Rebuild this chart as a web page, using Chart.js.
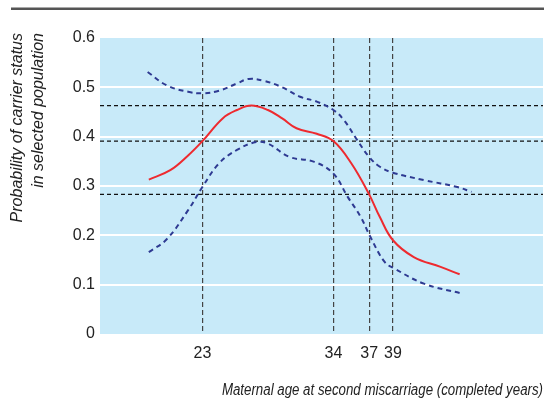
<!DOCTYPE html>
<html>
<head>
<meta charset="utf-8">
<script src="https://cdn.jsdelivr.net/npm/chart.js@4/dist/chart.umd.min.js"></script>
<style>
html,body{margin:0;padding:0;background:#fff}
#wrap{width:544px;height:400px}
</style>
</head>
<body>
<div id="wrap"><canvas id="c"></canvas></div>
<script>
// data
const xTicks = [23, 34, 37, 39]
const yTicks = [0, 0.1, 0.2, 0.3, 0.4, 0.5, 0.6]
const refProb = [0.463, 0.391, 0.283]

const redAge  = [18.5, 20.3, 21.8, 23, 24.7, 25.9, 27.1, 28.5, 29.7, 30.9, 32.6, 34, 35.5, 37, 37.9, 39, 40.75, 43.0, 44.6]
const redProb = [0.313, 0.332, 0.362, 0.391, 0.437, 0.454, 0.463, 0.454, 0.437, 0.417, 0.406, 0.391, 0.346, 0.283, 0.237, 0.19, 0.156, 0.136, 0.121]

const upAge  = [18.4, 20.0, 21.8, 23, 24.4, 25.9, 26.9, 28.2, 29.7, 31.2, 32.6, 34, 34.9, 36.0, 37, 37.9, 39, 41.6, 44.4, 45.6]
const upProb = [0.531, 0.504, 0.491, 0.488, 0.493, 0.508, 0.517, 0.513, 0.500, 0.481, 0.471, 0.454, 0.433, 0.393, 0.359, 0.339, 0.327, 0.312, 0.298, 0.288]

const lowAge  = [18.5, 20.0, 21.8, 23, 24.4, 25.9, 27.5, 28.5, 30.3, 32.4, 34, 35.2, 36.3, 37.1, 38.3, 39.1, 41.6, 44.6]
const lowProb = [0.166, 0.192, 0.251, 0.298, 0.346, 0.373, 0.389, 0.386, 0.359, 0.349, 0.325, 0.278, 0.237, 0.197, 0.146, 0.133, 0.102, 0.083]

const xTitle = 'Maternal age at second miscarriage (completed years)'
const yTitle = ['Probability of carrier status', 'in selected population']

const xMin = 14.4, xMax = 51.6

const pts = (a, b) => a.map((v, i) => ({x: v, y: b[i]}))

const FONT = "'Liberation Sans', Arial, sans-serif"

const bgPlugin = {
  id: 'bg',
  beforeDraw(chart) {
    const {ctx, chartArea: a} = chart
    ctx.save()
    ctx.fillStyle = '#c8eaf9'
    ctx.fillRect(a.left, a.top, a.right - a.left, a.bottom - a.top)
    // top rule
    ctx.strokeStyle = '#555'
    ctx.lineWidth = 2.6
    ctx.beginPath()
    ctx.moveTo(11, 8.7)
    ctx.lineTo(544, 8.7)
    ctx.stroke()
    ctx.restore()
  },
  afterDraw(chart) {
    const {ctx, chartArea: a} = chart
    ctx.save()
    ctx.fillStyle = '#222'
    ctx.font = 'italic 16px ' + FONT
    // x title, condensed like the original
    ctx.save()
    ctx.translate(a.right, 395)
    ctx.scale(0.83, 1)
    ctx.textAlign = 'right'
    ctx.textBaseline = 'alphabetic'
    ctx.fillText(xTitle, 0, 0)
    ctx.restore()
    // y title
    ctx.save()
    ctx.translate(18, 33)
    ctx.rotate(-Math.PI / 2)
    ctx.textAlign = 'right'
    ctx.textBaseline = 'middle'
    ctx.fillText(yTitle[0], 0, 0)
    ctx.fillText(yTitle[1], 0, 21)
    ctx.restore()
    ctx.restore()
  }
}

const refSets = refProb.map(p => ({
  data: [{x: xMin, y: p}, {x: xMax, y: p}],
  borderColor: '#111',
  borderWidth: 1.2,
  borderDash: [4, 3],
  pointRadius: 0,
  order: 5
}))

new Chart(document.getElementById('c'), {
  type: 'line',
  data: {
    datasets: [
      ...refSets,
      {data: pts(upAge, upProb), borderColor: '#2e3a92', borderWidth: 2, borderDash: [5, 4], pointRadius: 0, tension: 0.4, order: 2},
      {data: pts(lowAge, lowProb), borderColor: '#2e3a92', borderWidth: 2, borderDash: [5, 4], pointRadius: 0, tension: 0.4, order: 2},
      {data: pts(redAge, redProb), borderColor: '#ee2a2f', borderWidth: 2, pointRadius: 0, tension: 0.4, order: 1}
    ]
  },
  options: {
    responsive: true,
    maintainAspectRatio: false,
    animation: false,
    layout: {padding: {top: 38, right: 1, bottom: 0, left: 0}},
    plugins: {legend: {display: false}, tooltip: {enabled: false}},
    scales: {
      x: {
        type: 'linear',
        min: xMin,
        max: xMax,
        afterBuildTicks: s => { s.ticks = xTicks.map(v => ({value: v})) },
        afterFit: s => { s.height = 66 },
        grid: {color: '#444', lineWidth: 1.2, drawTicks: false},
        border: {display: false, dash: [5, 3]},
        ticks: {color: '#222', padding: 10, font: {family: FONT, size: 16}},
        title: {display: false}
      },
      y: {
        min: 0,
        max: 0.6,
        afterBuildTicks: s => { s.ticks = yTicks.map(v => ({value: v})) },
        afterFit: s => { s.width = 100 },
        grid: {
          color: c => (c.tick.value > 0 && c.tick.value < 0.6) ? '#fff' : 'rgba(0,0,0,0)',
          lineWidth: 2,
          drawTicks: false
        },
        border: {display: false},
        ticks: {color: '#222', padding: 5, font: {family: FONT, size: 16}, callback: v => String(+v.toFixed(1))},
        title: {display: false}
      }
    }
  },
  plugins: [bgPlugin]
})
</script>
</body>
</html>
